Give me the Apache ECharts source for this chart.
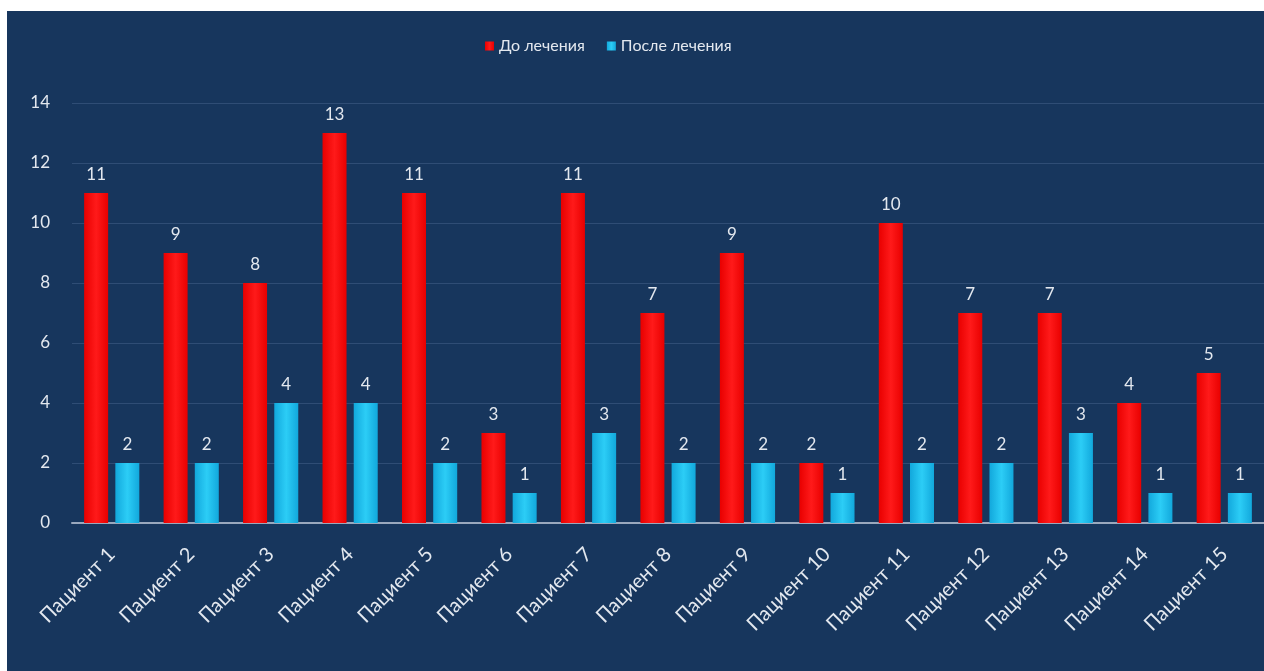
<!DOCTYPE html>
<html><head><meta charset="utf-8">
<script src="https://cdn.jsdelivr.net/npm/echarts@6/dist/echarts.min.js"></script>
<style>
html,body{margin:0;padding:0;background:#fff;width:1264px;height:671px;overflow:hidden}
#c{position:absolute;left:7px;top:11px;width:1257px;height:660px}
</style></head><body>
<div id="c"></div>
<script>
const categories = ['Пациент 1','Пациент 2','Пациент 3','Пациент 4','Пациент 5','Пациент 6','Пациент 7','Пациент 8','Пациент 9','Пациент 10','Пациент 11','Пациент 12','Пациент 13','Пациент 14','Пациент 15'];
const before = [11,9,8,13,11,3,11,7,9,2,10,7,7,4,5];
const after = [2,2,4,4,2,1,3,2,2,1,2,2,3,1,1];
const seriesNames = ['До лечения','После лечения'];

const font = 'Lato, "Open Sans", sans-serif';
const txt = '#e3e8ef';
function grad(edge, mid){
  return new echarts.graphic.LinearGradient(0,0,1,0,[
    {offset:0,color:edge},{offset:0.5,color:mid},{offset:1,color:edge}]);
}
const chart = echarts.init(document.getElementById('c'));
chart.setOption({
  backgroundColor:'#17365d',
  animation:false,
  textStyle:{fontFamily:font},
  legend:{
    top:22,left:473,itemWidth:9,itemHeight:9,itemGap:22,icon:'rect',
    textStyle:{color:txt,fontSize:16,fontFamily:font},
    data:seriesNames
  },
  grid:{left:65,right:0,top:92,bottom:148},
  xAxis:{
    type:'category',data:categories,
    axisLine:{lineStyle:{color:'#9aa8bd',width:2}},
    axisTick:{show:false},
    axisLabel:{color:txt,fontSize:20,rotate:45,margin:28,interval:0,fontFamily:font}
  },
  yAxis:{
    type:'value',min:0,max:14,interval:2,
    axisLine:{show:false},axisTick:{show:false},
    splitLine:{lineStyle:{color:'#2f4d75',width:1}},
    axisLabel:{color:txt,fontSize:17,margin:22,fontFamily:font}
  },
  series:[
    {name:seriesNames[0],type:'bar',data:before,barWidth:24,barGap:'30%',
     itemStyle:{color:grad('#e80000','#ff1a1a')},
     label:{show:true,position:'top',distance:10,color:txt,fontSize:17,fontFamily:font}},
    {name:seriesNames[1],type:'bar',data:after,barWidth:24,
     itemStyle:{color:grad('#12a8dc','#2ccdf6')},
     label:{show:true,position:'top',distance:10,color:txt,fontSize:17,fontFamily:font}}
  ]
});
</script>
</body></html>
